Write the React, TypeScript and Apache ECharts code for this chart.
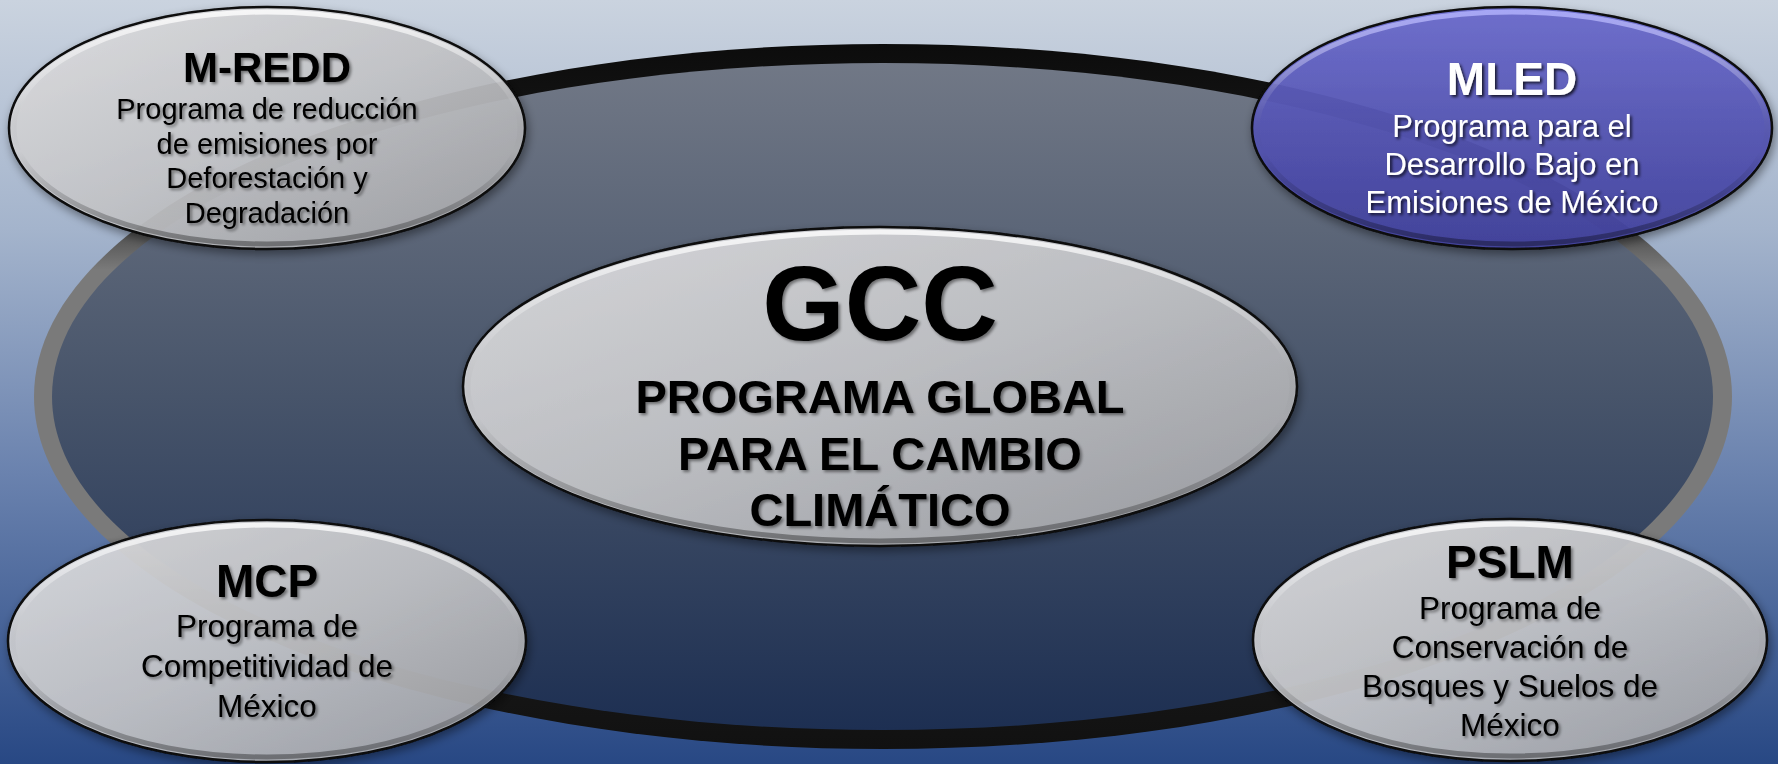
import React, { useEffect, useRef } from "react";
import * as echarts from "echarts";

const W = 1778;
const H = 764;

// ---- content ----
const nodeTitles = ["GCC", "M-REDD", "MLED", "MCP", "PSLM"];
const nodeBodies: string[][] = [
  ["PROGRAMA GLOBAL", "PARA EL CAMBIO", "CLIMÁTICO"],
  ["Programa de reducción", "de emisiones por", "Deforestación y", "Degradación"],
  ["Programa para el", "Desarrollo Bajo en", "Emisiones de México"],
  ["Programa de", "Competitividad de", "México"],
  ["Programa de", "Conservación de", "Bosques y Suelos de", "México"],
];
const nodeThemes = ["silver", "silver", "blue", "silver", "silver"];

// ---- layout (positions / sizes) ----
const layout = [
  { cx: 880, cy: 386.5, rx: 417, ry: 159.5, tSize: 106, tBase: 340, bSize: 47, bBase: 413, gap: 56.5, bBold: true },
  { cx: 267, cy: 128, rx: 258, ry: 121, tSize: 42, tBase: 82, bSize: 29, bBase: 119, gap: 34.8, bBold: false },
  { cx: 1512, cy: 128, rx: 260, ry: 121, tSize: 46, tBase: 95, bSize: 31, bBase: 137, gap: 38, bBold: false },
  { cx: 267, cy: 641, rx: 259, ry: 121, tSize: 46, tBase: 597, bSize: 31.5, bBase: 637, gap: 40, bBold: false },
  { cx: 1510, cy: 640, rx: 257, ry: 121, tSize: 46, tBase: 578, bSize: 31.5, bBase: 619, gap: 39, bBold: false },
];

const FONT = '"Liberation Sans", Arial, Helvetica, sans-serif';

function lin(x: number, y: number, x2: number, y2: number, stops: [number, string][]) {
  return {
    type: "linear",
    x,
    y,
    x2,
    y2,
    colorStops: stops.map(([offset, color]) => ({ offset, color })),
  };
}

function textEl(text: string, x: number, baseline: number, size: number, bold: boolean, color: string, light: boolean) {
  return {
    type: "text",
    silent: true,
    z: 100,
    style: {
      text,
      x,
      y: baseline - 0.35 * size,
      fill: color,
      fontSize: size,
      fontWeight: bold ? "bold" : "normal",
      fontFamily: FONT,
      align: "center",
      verticalAlign: "middle",
      textAlign: "center",
      textVerticalAlign: "middle",
      textShadowColor: light ? "rgba(0,0,0,0.75)" : "rgba(0,0,0,0.45)",
      textShadowBlur: 3,
      textShadowOffsetX: 2,
      textShadowOffsetY: 2,
    },
  };
}

function buildElements() {
  const els: any[] = [];
  // background
  els.push({
    type: "rect",
    silent: true,
    z: 0,
    shape: { x: 0, y: 0, width: W, height: H },
    style: {
      fill: lin(0, 0, 0, 1, [
        [0, "#cad3df"],
        [0.3, "#a4b4cc"],
        [0.62, "#6a82ae"],
        [1, "#284884"],
      ]),
    },
  });
  // big ring (outer)
  els.push({
    type: "ellipse",
    silent: true,
    z: 1,
    shape: { cx: 883, cy: 396.5, rx: 849, ry: 352.5 },
    style: {
      fill: lin(0, 0, 0, 1, [
        [0, "#0c0c0c"],
        [0.2, "#1a1a1a"],
        [0.32, "#7a7a7a"],
        [0.7, "#7a7a7a"],
        [0.8, "#1a1a1a"],
        [1, "#111111"],
      ]),
    },
  });
  // big ring (inner)
  els.push({
    type: "ellipse",
    silent: true,
    z: 2,
    shape: { cx: 882.5, cy: 396.5, rx: 830.5, ry: 333.5 },
    style: {
      fill: lin(0, 0, 0, 1, [
        [0, "#717886"],
        [0.5, "#47546a"],
        [1, "#1d2f52"],
      ]),
    },
  });

  nodeTitles.forEach((title, i) => {
    const L = layout[i];
    const blue = nodeThemes[i] === "blue";
    const z = 10 + i * 5;
    // main ellipse (slightly translucent so the ring shows through faintly)
    els.push({
      type: "ellipse",
      silent: true,
      z,
      shape: { cx: L.cx, cy: L.cy, rx: L.rx, ry: L.ry },
      style: {
        fill: blue
          ? lin(0, 0, 0, 1, [
              [0, "rgba(108,108,206,0.92)"],
              [0.5, "rgba(86,86,181,0.92)"],
              [1, "rgba(66,66,158,0.92)"],
            ])
          : lin(0, 0, 1, 1, [
              [0, "rgba(226,226,228,0.9)"],
              [0.5, "rgba(198,199,202,0.9)"],
              [1, "rgba(160,161,165,0.9)"],
            ]),
        stroke: "#0a0a0a",
        lineWidth: 2.5,
        shadowBlur: 10,
        shadowOffsetX: 2,
        shadowOffsetY: 4,
        shadowColor: "rgba(0,0,0,0.45)",
      },
    });
    // top highlight rim / bottom inner shade
    els.push({
      type: "ellipse",
      silent: true,
      z: z + 2,
      shape: { cx: L.cx, cy: L.cy, rx: L.rx - 5, ry: L.ry - 5 },
      style: {
        fill: "none",
        stroke: lin(0, 0, 0, 1, [
          [0, blue ? "rgba(180,180,255,0.8)" : "rgba(255,255,255,0.8)"],
          [0.35, "rgba(255,255,255,0.12)"],
          [0.6, "rgba(0,0,0,0)"],
          [1, "rgba(0,0,0,0.35)"],
        ]),
        lineWidth: 5,
      },
    });
    // texts
    const color = blue ? "#ffffff" : "#000000";
    els.push(textEl(title, L.cx, L.tBase, L.tSize, true, color, blue));
    nodeBodies[i].forEach((line, k) => {
      els.push(textEl(line, L.cx, L.bBase + k * L.gap, L.bSize, L.bBold, color, blue));
    });
  });
  return els;
}

export default function App() {
  const ref = useRef<HTMLDivElement>(null);
  useEffect(() => {
    document.body.style.margin = "0";
    document.body.style.overflow = "hidden";
    if (!ref.current) return;
    const chart = echarts.init(ref.current, undefined, { renderer: "svg" });
    chart.setOption({
      animation: false,
      graphic: { elements: buildElements() },
    });
    return () => chart.dispose();
  }, []);
  return <div ref={ref} style={{ width: W, height: H }} />;
}
